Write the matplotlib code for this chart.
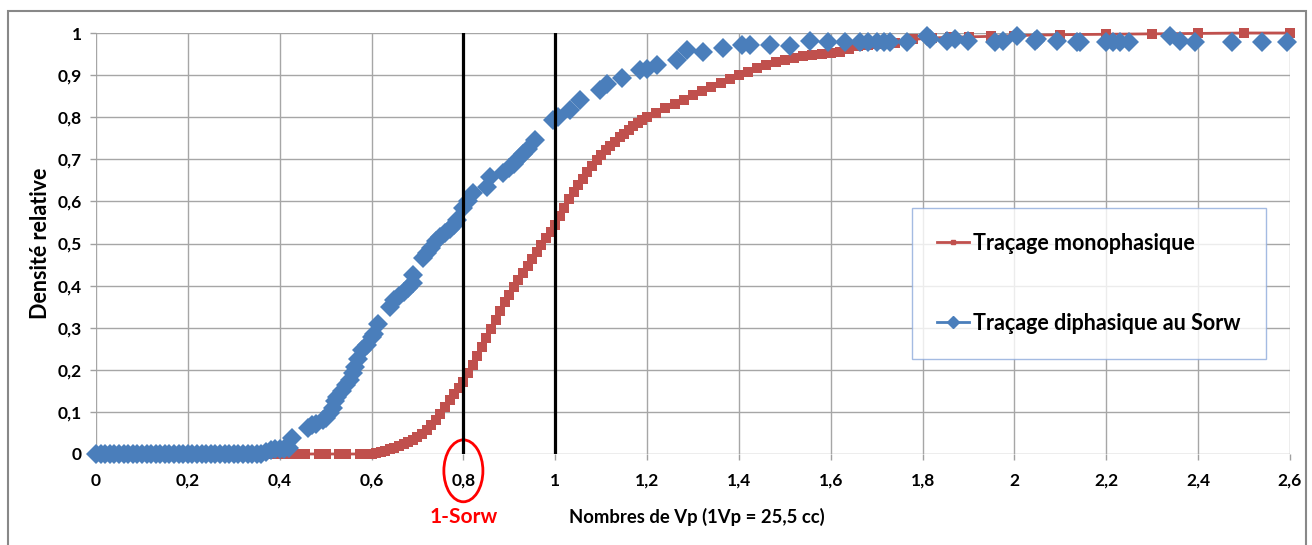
import numpy as np
import matplotlib.pyplot as plt
from matplotlib.patches import Ellipse, Rectangle
from matplotlib.lines import Line2D

plt.rcParams['font.family'] = ['Lato', 'DejaVu Sans']
plt.rcParams['font.weight'] = 'bold'

############ Data #################################
# Traçage monophasique (red)
x_mono = [0, 0.02, 0.04, 0.06, 0.08, 0.10, 0.12, 0.14, 0.16, 0.18, 0.20, 0.22, 0.24, 0.26, 0.28,
          0.30, 0.32, 0.34, 0.36, 0.38, 0.40, 0.42, 0.44, 0.455, 0.485, 0.50, 0.53, 0.545,
          0.575, 0.59,
          0.60, 0.61, 0.62, 0.63, 0.64, 0.65, 0.66, 0.67, 0.68, 0.69, 0.70, 0.71, 0.72, 0.73,
          0.74, 0.75, 0.76, 0.77, 0.78, 0.79, 0.80, 0.81, 0.82, 0.83, 0.84, 0.85, 0.86, 0.87,
          0.88, 0.89, 0.90, 0.91, 0.92, 0.93, 0.94, 0.95, 0.96, 0.97, 0.98, 0.99, 1.00, 1.01,
          1.02, 1.03, 1.04, 1.05, 1.06, 1.07, 1.08, 1.09, 1.10, 1.11, 1.12, 1.13, 1.14, 1.15,
          1.16, 1.17, 1.18, 1.19, 1.20, 1.22, 1.24, 1.26, 1.28, 1.30, 1.32, 1.34, 1.36, 1.38,
          1.40, 1.42, 1.44, 1.46, 1.48, 1.50, 1.52, 1.54, 1.56, 1.58, 1.60, 1.62, 1.64, 1.66,
          1.68, 1.70, 1.74, 1.78, 1.82, 1.86, 1.90, 1.95, 2.00, 2.10, 2.20, 2.30, 2.40, 2.50, 2.60]
y_mono = [0, 0, 0, 0, 0, 0, 0, 0, 0, 0, 0, 0, 0, 0, 0,
          0, 0, 0, 0, 0, 0, 0, 0, 0, 0, 0, 0, 0,
          0, 0,
          0.000, 0.002, 0.004, 0.008, 0.011, 0.015, 0.020, 0.024, 0.028, 0.034, 0.040, 0.048,
          0.057, 0.068, 0.080, 0.096, 0.112, 0.128, 0.142, 0.157, 0.172, 0.192, 0.212, 0.232,
          0.254, 0.276, 0.296, 0.318, 0.340, 0.360, 0.378, 0.396, 0.413, 0.430, 0.447, 0.464,
          0.480, 0.496, 0.512, 0.528, 0.545, 0.565, 0.585, 0.605, 0.622, 0.638, 0.654, 0.670,
          0.684, 0.698, 0.710, 0.721, 0.732, 0.742, 0.752, 0.761, 0.770, 0.778, 0.786, 0.793,
          0.800, 0.811, 0.821, 0.831, 0.842, 0.853, 0.862, 0.872, 0.882, 0.891, 0.900, 0.908,
          0.916, 0.924, 0.931, 0.936, 0.940, 0.945, 0.948, 0.950, 0.953, 0.956, 0.962, 0.970,
          0.972, 0.974, 0.976, 0.985, 0.988, 0.990, 0.991, 0.992, 0.994, 0.996, 0.997, 0.998,
          0.999, 1.0, 1.0]

# Traçage diphasique au Sorw (blue)
x_di = [0, 0.01, 0.02, 0.03, 0.04, 0.05, 0.06, 0.07, 0.08, 0.09, 0.10, 0.11, 0.12, 0.13,
        0.14, 0.15, 0.16, 0.17, 0.18, 0.19, 0.20, 0.21, 0.22, 0.23, 0.24, 0.25, 0.26, 0.27,
        0.28, 0.29, 0.30, 0.31, 0.32, 0.33, 0.34, 0.35, 0.36, 0.37, 0.38, 0.39, 0.40, 0.41,
        0.42, 0.427,
        0.462, 0.47, 0.48, 0.494, 0.50, 0.51, 0.515, 0.52, 0.525, 0.535, 0.545, 0.553, 0.56,
        0.564, 0.57, 0.58, 0.59, 0.60, 0.605, 0.615,
        0.64, 0.65, 0.66, 0.67, 0.68, 0.69, 0.69,
        0.712, 0.72, 0.73, 0.74, 0.75, 0.76, 0.77, 0.78, 0.786, 0.80, 0.81, 0.821,
        0.851, 0.858, 0.887, 0.90, 0.91, 0.92, 0.93, 0.94, 0.956,
        0.996, 1.005, 1.032, 1.054, 1.098, 1.112, 1.145, 1.185, 1.20, 1.222, 1.265, 1.287,
        1.322, 1.365, 1.407, 1.424, 1.468, 1.511, 1.555, 1.594, 1.631, 1.664, 1.68, 1.70,
        1.715, 1.729, 1.766, 1.81, 1.817, 1.853, 1.87, 1.899, 1.958, 1.975, 2.005, 2.045,
        2.05, 2.093, 2.136, 2.143, 2.20, 2.215, 2.23, 2.25, 2.339, 2.36, 2.393, 2.474,
        2.539, 2.594]
y_di = [0, 0, 0, 0, 0, 0, 0, 0, 0, 0, 0, 0, 0, 0,
        0, 0, 0, 0, 0, 0, 0, 0, 0, 0, 0, 0, 0, 0,
        0, 0, 0, 0, 0, 0, 0, 0, 0, 0.005, 0.01, 0.012, 0.012, 0.012,
        0.015, 0.038,
        0.062, 0.068, 0.072, 0.08, 0.085, 0.097, 0.11, 0.125, 0.135, 0.15, 0.163, 0.176, 0.192,
        0.207, 0.225, 0.247, 0.26, 0.278, 0.285, 0.308,
        0.35, 0.365, 0.375, 0.385, 0.395, 0.405, 0.425,
        0.465, 0.478, 0.49, 0.505, 0.515, 0.525, 0.535, 0.545, 0.556, 0.584, 0.60, 0.62,
        0.634, 0.658, 0.667, 0.68, 0.69, 0.70, 0.712, 0.725, 0.746,
        0.793, 0.80, 0.817, 0.84, 0.865, 0.88, 0.893, 0.912, 0.915, 0.924, 0.936, 0.96,
        0.955, 0.964, 0.971, 0.971, 0.971, 0.969, 0.981, 0.979, 0.979, 0.979, 0.979, 0.979,
        0.979, 0.979, 0.979, 0.993, 0.985, 0.981, 0.985, 0.981, 0.979, 0.981, 0.993, 0.981,
        0.985, 0.981, 0.979, 0.979, 0.979, 0.979, 0.979, 0.979, 0.993, 0.981, 0.979, 0.979,
        0.979, 0.979]

xticks = [0, 0.2, 0.4, 0.6, 0.8, 1.0, 1.2, 1.4, 1.6, 1.8, 2.0, 2.2, 2.4, 2.6]
xtick_labels = ['0', '0,2', '0,4', '0,6', '0,8', '1', '1,2', '1,4', '1,6', '1,8', '2', '2,2', '2,4', '2,6']
yticks = [0, 0.1, 0.2, 0.3, 0.4, 0.5, 0.6, 0.7, 0.8, 0.9, 1.0]
ytick_labels = ['0', '0,1', '0,2', '0,3', '0,4', '0,5', '0,6', '0,7', '0,8', '0,9', '1']
vlines_x = [0.8, 1.0]
label_mono = 'Traçage monophasique'
label_di = 'Traçage diphasique au Sorw'

red = '#C0504D'
blue = '#4A7EBB'

############# Plot ##################
fig = plt.figure(figsize=(13.12, 5.45), dpi=100)
ax = fig.add_axes([96/1312, 1-454/545, 1194/1312, 421/545])

ax.plot(x_mono, y_mono, color=red, linewidth=2, marker='s', markersize=7,
        markeredgewidth=0, clip_on=False, zorder=3)
ax.plot(x_di, y_di, color=blue, linestyle='none', marker='D', markersize=10.5,
        markeredgewidth=0, clip_on=False, zorder=4)
for xv in vlines_x:
    ax.axvline(xv, color='black', linewidth=2.3, zorder=5)

ax.set_xlim(0, 2.6)
ax.set_ylim(0, 1)
ax.set_xticks(xticks)
ax.set_xticklabels(xtick_labels)
ax.set_yticks(yticks)
ax.set_yticklabels(ytick_labels)
ax.tick_params(axis='both', color='#a0a0a0', length=4, width=1, labelsize=12.5)
ax.tick_params(axis='x', pad=9.5)
ax.tick_params(axis='y', pad=6)
ax.grid(True, color='#a6a6a6', linewidth=1)
ax.set_axisbelow(True)
for s in ax.spines.values():
    s.set_visible(False)

ax.set_ylabel('Densité relative', fontsize=15.5, fontweight='bold')
ax.yaxis.set_label_coords(-0.0377, 0.5)
ax.set_xlabel('Nombres de Vp (1Vp = 25,5 cc)', fontsize=13.3, fontweight='bold')
ax.xaxis.set_label_coords(0.503, -0.128)

# 1-Sorw marker below the 0,8 tick
ax.add_patch(Ellipse((0.8, -0.04), 0.085, 0.147, fill=False, edgecolor='red',
                     linewidth=2, clip_on=False))
ax.text(0.8, -0.15, '1-Sorw', color='red', fontsize=15, fontweight='bold',
        ha='center', va='center')

handles = [Line2D([], [], color=red, linewidth=2, marker='s', markersize=3.5),
           Line2D([], [], color=blue, linewidth=2, marker='D', markersize=6)]
leg = ax.legend(handles, [label_mono, label_di], loc='upper left',
                bbox_to_anchor=((912-96)/1194, (454-208)/421), fontsize=15.5,
                frameon=True, fancybox=False, edgecolor='#8eaadb', borderpad=1.15,
                labelspacing=2.75, handlelength=1.5, handletextpad=0.2,
                borderaxespad=0)
leg.get_frame().set_linewidth(1)
leg.set_zorder(6)

# outer chart frame
fig.patches.append(Rectangle((8/1312, -0.01), 1298/1312, 1-11/545+0.01,
                             transform=fig.transFigure, fill=False,
                             edgecolor='#888888', linewidth=1.5))

plt.savefig('out.png', dpi=100)
